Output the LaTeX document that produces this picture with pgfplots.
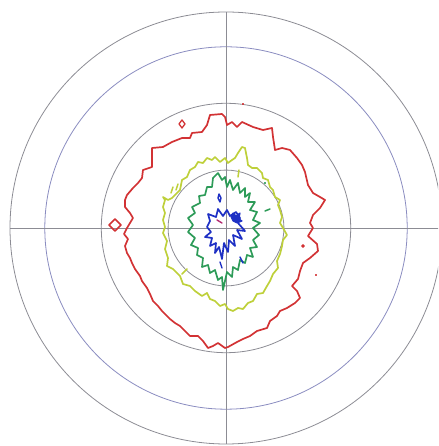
\documentclass[border=0pt]{standalone}
\usepackage{pgfplots}
\pgfplotsset{compat=1.18}
\definecolor{ringgray}{RGB}{140,140,148}
\definecolor{ringblue}{RGB}{138,140,192}
\definecolor{cred}{RGB}{210,50,52}
\definecolor{cyellow}{RGB}{190,208,58}
\definecolor{cgreen}{RGB}{45,155,88}
\definecolor{cblue}{RGB}{30,48,196}
\definecolor{cmag}{RGB}{180,45,115}
\begin{document}
\begin{tikzpicture}
\begin{axis}[
  x=1pt, y=1pt,
  xmin=-226, xmax=212, ymin=-218, ymax=228,
  axis lines=none, clip=true,
  every axis plot/.append style={line join=round, line cap=round, mark=none},
]
% stereographic rings: 30, 60, 80 and 90 degrees (r = R tan(theta/2), R = 216)
\draw[ringgray, line width=0.8pt] (0,0) circle[radius=216];
\draw[ringblue, line width=0.8pt] (0,0) circle[radius=181.2];
\draw[ringgray, line width=0.8pt] (0,0) circle[radius=124.7];
\draw[ringgray, line width=0.8pt] (0,0) circle[radius=57.9];
\draw[ringgray, line width=0.8pt] (-216,0) -- (216,0);
\draw[ringgray, line width=0.8pt] (0,-216) -- (0,216);

% outermost level
\addplot[cred, line width=1.7pt] coordinates {
(-99,0) (-96,5) (-93,10) (-96,15) (-101,21) (-101,28) (-99,33) (-93,40)
(-88,45) (-84,50) (-83,58) (-74,61) (-74,80) (-63,81) (-54,86) (-44,90)
(-36,90) (-34,95) (-24,96) (-19,103) (-16,113) (-4,114) (-1,111) (1,103)
(6,106) (11,101) (16,106) (27,101) (37,98) (46,100) (47,91) (49,78)
(56,80) (64,78) (71,70) (76,63) (79,56) (82,43) (87,35) (94,31) (99,28)
(94,20) (87,13) (84,5) (87,0) (82,-8) (91,-16) (92,-23) (84,-30) (77,-35)
(74,-43) (72,-51) (66,-58) (71,-63) (74,-70) (69,-75) (61,-80) (54,-83)
(51,-88) (44,-93) (41,-100) (31,-103) (24,-108) (17,-111) (11,-114)
(2,-119) (-1,-120) (-8,-115) (-13,-118) (-18,-120) (-23,-113) (-28,-108)
(-36,-108) (-41,-103) (-46,-98) (-51,-95) (-56,-91) (-61,-86) (-64,-83)
(-68,-78) (-73,-73) (-76,-66) (-79,-60) (-84,-53) (-86,-48) (-91,-41)
(-94,-35) (-96,-30) (-99,-25) (-101,-18) (-98,-11) (-102,-6) (-99,0)
};
\addplot[cred, line width=1.6pt] coordinates {(-117,3) (-111,9) (-105,3) (-111,-3) (-117,3)};
\addplot[cred, line width=1.3pt] coordinates {(-47,104) (-44,108) (-41,104) (-44,100) (-47,104)};
\addplot[cred, only marks, mark=*, mark size=1.7pt] coordinates {(77,-18)};
\addplot[cred, only marks, mark=*, mark size=0.8pt] coordinates {(17,124) (90,-47)};

% second level
\addplot[cyellow, line width=1.7pt] coordinates {
(-63,31) (-58,28) (-54,30) (-51,33) (-46,38) (-44,48) (-39,51) (-36,58)
(-31,61) (-28,66) (-23,65) (-19,70) (-14,68) (-11,71) (-6,66) (-1,70)
(2,65) (6,68) (9,70) (12,75) (16,81) (19,80) (21,70) (22,63) (26,60)
(31,60) (36,55) (37,50) (42,48) (44,41) (47,38) (49,31) (54,28) (52,23)
(54,18) (56,11) (54,5) (57,0) (61,-7) (57,-12) (56,-18) (54,-26) (51,-33)
(52,-40) (47,-46) (44,-53) (41,-58) (37,-65) (31,-66) (27,-73) (22,-75)
(17,-81) (12,-80) (7,-83) (2,-81) (-1,-76) (-6,-78) (-11,-73) (-16,-71)
(-19,-65) (-24,-68) (-31,-63) (-36,-58) (-43,-56) (-46,-48) (-53,-41)
(-59,-38) (-58,-30) (-61,-21) (-59,-13) (-63,-5) (-61,1) (-63,8) (-61,15)
(-63,21) (-61,28) (-63,31)
};
\addplot[cyellow, line width=1.5pt] coordinates {(-55,35) (-53,41)};
\addplot[cyellow, line width=1.5pt] coordinates {(-50,38) (-48,44)};
\addplot[cyellow, line width=1.5pt] coordinates {(-44,-46) (-39,-41)};
\addplot[cyellow, line width=1.5pt] coordinates {(12,51) (13,58)};

% third level
\addplot[cgreen, line width=1.7pt] coordinates {
(-8,55) (-4,48) (-1,51) (1,41) (4,48) (7,38) (12,45) (14,35) (19,40)
(19,31) (24,35) (22,26) (29,26) (24,18) (31,16) (27,8) (34,5) (27,0)
(33,-7) (27,-12) (31,-19) (24,-20) (27,-29) (21,-27) (19,-35) (14,-32)
(12,-42) (7,-39) (6,-49) (1,-44) (-3,-62) (-4,-49) (-8,-52) (-11,-42)
(-16,-45) (-18,-37) (-24,-39) (-23,-30) (-29,-27) (-28,-20) (-35,-17)
(-31,-10) (-38,-4) (-33,3) (-38,10) (-31,15) (-34,21) (-26,25) (-27,32)
(-21,33) (-19,41) (-14,41) (-13,50) (-8,55)
};
\addplot[cgreen, line width=1.5pt] coordinates {(39,17) (44,19)};
\addplot[cgreen, only marks, mark=*, mark size=0.8pt] coordinates {(39,45)};

% innermost level
\addplot[cblue, line width=1.7pt] coordinates {
(-19,1) (-16,7) (-18,14) (-10,11) (-8,19) (-3,12) (1,18) (4,12) (10,16)
(14,10) (12,5) (19,-3) (11,-2) (16,-11) (7,-7) (9,-18) (3,-12) (2,-24)
(-2,-15) (-4,-31) (-7,-19) (-11,-25) (-10,-15) (-16,-18) (-14,-10)
(-21,-9) (-15,-4) (-19,1)
};
\addplot[cblue, fill=cblue, line width=1.1pt] coordinates {(7,15) (10,12) (14,15) (13,9) (16,7) (11,5) (7,7) (5,11) (7,15)};
\addplot[cblue, line width=1.4pt] coordinates {(-7,34) (-5,30) (-6,26) (-8,30) (-7,34)};
\addplot[cblue, line width=1.4pt] coordinates {(-6,-34) (-4,-40)};
\addplot[cblue, line width=1.4pt] coordinates {(14,-29) (17,-35)};
\addplot[cmag, line width=1.4pt] coordinates {(-9,8) (-4,5)};
\end{axis}
\pgfresetboundingbox
\path[use as bounding box] (current axis.south west) rectangle (current axis.north east);
\end{tikzpicture}
\end{document}
